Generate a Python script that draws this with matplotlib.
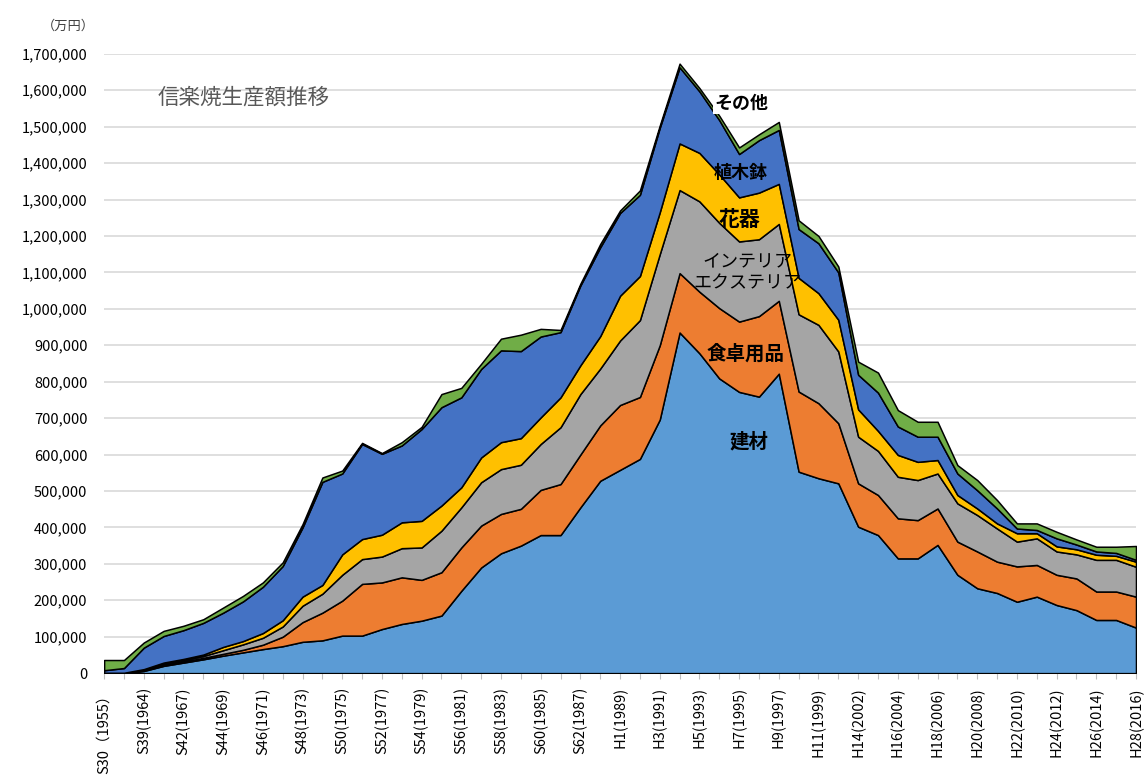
import matplotlib
matplotlib.use("Agg")
import matplotlib.pyplot as plt
import numpy as np

plt.rcParams['font.family'] = ['Noto Sans CJK JP', 'DejaVu Sans']

# categories (only every other one is labelled on the axis)
categories = [
    "S30（1955）", "S35(1960)", "S39(1964)", "S40(1965)", "S42(1967)", "S43(1968)",
    "S44(1969)", "S45(1970)", "S46(1971)", "S47(1972)", "S48(1973)", "S49(1974)",
    "S50(1975)", "S51(1976)", "S52(1977)", "S53(1978)", "S54(1979)", "S55(1980)",
    "S56(1981)", "S57(1982)", "S58(1983)", "S59(1984)", "S60(1985)", "S61(1986)",
    "S62(1987)", "S63(1988)", "H1(1989)", "H2(1990)", "H3(1991)", "H4(1992)",
    "H5(1993)", "H6(1994)", "H7(1995)", "H8(1996)", "H9(1997)", "H10(1998)",
    "H11(1999)", "H13(2001)", "H14(2002)", "H15(2003)", "H16(2004)", "H17(2005)",
    "H18(2006)", "H19(2007)", "H20(2008)", "H21(2009)", "H22(2010)", "H23(2011)",
    "H24(2012)", "H25(2013)", "H26(2014)", "H27(2015)", "H28(2016)",
]

# values in 千万円 units (x1000 -> 万円)
kenzai = [0, 0, 6, 20, 29, 38, 48, 57, 66, 74, 86, 90, 103, 103, 121, 135, 144, 158,
          226, 290, 329, 350, 379, 379, 455, 528, 558, 588, 696, 935, 878, 809, 772,
          759, 822, 553, 535, 521, 402, 379, 315, 315, 352, 270, 233, 220, 196, 210,
          187, 173, 146, 146, 125]
shokutaku = [0, 0, 2, 3, 3, 4, 5, 7, 12, 26, 54, 76, 96, 142, 128, 128, 112, 119,
             119, 115, 108, 101, 124, 140, 145, 152, 178, 170, 204, 163, 169, 193, 193,
             221, 200, 220, 206, 165, 119, 110, 110, 105, 100, 91, 101, 86, 97, 87,
             83, 87, 78, 78, 85]
interior = [1, 1, 2, 4, 4, 5, 10, 15, 19, 28, 45, 52, 71, 68, 71, 80, 89, 114,
            110, 119, 123, 121, 126, 156, 166, 156, 177, 211, 250, 228, 248, 234, 220,
            211, 211, 212, 215, 197, 128, 121, 114, 110, 96, 105, 100, 91, 68, 73,
            64, 66, 87, 87, 82]
kaki = [0, 0, 1, 2, 3, 4, 9, 9, 13, 17, 25, 24, 56, 55, 60, 71, 73, 69,
        55, 68, 74, 73, 73, 82, 79, 89, 123, 121, 115, 128, 133, 133, 121,
        128, 110, 100, 87, 87, 75, 55, 60, 50, 37, 23, 18, 14, 23, 14,
        14, 14, 14, 11, 14]
uekibachi = [7, 13, 59, 73, 79, 87, 94, 109, 127, 149, 190, 283, 222, 261, 222, 211, 252, 270,
             247, 243, 252, 239, 222, 179, 219, 244, 227, 223, 232, 209, 169, 149, 119,
             144, 148, 134, 137, 130, 95, 105, 78, 69, 64, 59, 50, 41, 13, 9,
             22, 13, 9, 8, 5]
sonota = [28, 22, 14, 14, 12, 10, 14, 15, 12, 10, 9, 12, 8, 3, 2, 9, 6, 36,
          26, 14, 32, 45, 21, 6, 5, 9, 7, 12, 6, 10, 9, 12, 18,
          16, 22, 24, 20, 16, 36, 55, 45, 41, 41, 23, 28, 23, 14, 18,
          18, 14, 13, 17, 38]

colors = ["#5B9BD5", "#ED7D31", "#A5A5A5", "#FFC000", "#4472C4", "#70AD47"]

x = np.arange(len(categories))
stack = [np.array(s) * 1000 for s in (kenzai, shokutaku, interior, kaki, uekibachi, sonota)]

fig = plt.figure(figsize=(11.44, 7.80), dpi=100)
ax = fig.add_axes([0.091, 0.137, 0.902, 0.794])

ax.stackplot(x, *stack, colors=colors, edgecolor="black", linewidth=1.1, zorder=3)

ax.set_xlim(0, len(categories) - 1)
ax.set_ylim(0, 1700000)
ax.set_yticks(np.arange(0, 1700001, 100000))
ax.set_yticklabels([f"{v:,}" for v in range(0, 1700001, 100000)], fontsize=10.5)
ax.yaxis.grid(True, color="#D9D9D9", linewidth=1.2, zorder=0)
ax.set_axisbelow(True)
ax.tick_params(axis="y", length=0, pad=12)

ax.set_xticks(x)
ax.set_xticklabels([c if i % 2 == 0 else "" for i, c in enumerate(categories)],
                   rotation=90, fontsize=10.5)
ax.tick_params(axis="x", length=4, color="#BFBFBF", pad=6)

for side in ("top", "right", "left"):
    ax.spines[side].set_visible(False)
ax.spines["bottom"].set_color("#BFBFBF")

ax.text(-0.035, 1.045, "（万円）", transform=ax.transAxes, fontsize=9.5,
        ha="center", va="center", color="#404040")
ax.text(0.052, 0.93, "信楽焼生産額推移", transform=ax.transAxes, fontsize=15.5,
        ha="left", va="center", color="#595959")

# series labels placed in the chart
ax.text(32.1, 1565000, "その他", fontsize=13, fontweight="bold", ha="center", va="center",
        bbox=dict(facecolor="white", edgecolor="none", pad=1), zorder=5)
ax.text(32.1, 1375000, "植木鉢", fontsize=13, fontweight="bold", ha="center", va="center", zorder=5)
ax.text(32.0, 1245000, "花器", fontsize=15, fontweight="bold", ha="center", va="center", zorder=5)
ax.text(32.4, 1100000, "インテリア\nエクステリア", fontsize=13, ha="center", va="center",
        linespacing=1.3, zorder=5)
ax.text(32.3, 875000, "食卓用品", fontsize=14, fontweight="bold", ha="center", va="center", zorder=5)
ax.text(32.5, 635000, "建材", fontsize=14, fontweight="bold", ha="center", va="center", zorder=5)

fig.savefig("out.png", dpi=100)
